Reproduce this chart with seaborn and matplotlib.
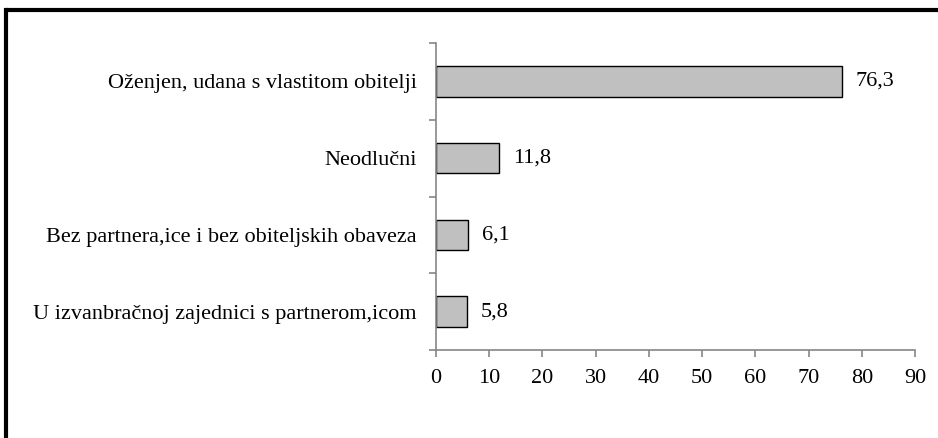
import matplotlib
matplotlib.use("Agg")
import matplotlib.pyplot as plt
from matplotlib.lines import Line2D
import numpy as np
import pandas as pd
import seaborn as sns

categories = [
    "Oženjen, udana s vlastitom obitelji",
    "Neodlučni",
    "Bez partnera,ice i bez obiteljskih obaveza",
    "U izvanbračnoj zajednici s partnerom,icom",
]
values = [76.3, 11.8, 6.1, 5.8]
value_labels = ["76,3", "11,8", "6,1", "5,8"]
x_ticks = [0, 10, 20, 30, 40, 50, 60, 70, 80, 90]

df = pd.DataFrame({"kategorija": categories, "postotak": values})

sns.set_style("white")
plt.rcParams["font.family"] = ["Liberation Serif", "DejaVu Serif"]
plt.rcParams["font.size"] = 16
plt.rcParams["text.color"] = "black"
plt.rcParams["xtick.color"] = "black"
plt.rcParams["ytick.color"] = "black"

fig = plt.figure(figsize=(9.38, 4.38), dpi=100)
ax = fig.add_axes([0.4648, 0.2009, 0.9755 - 0.4648, 0.9018 - 0.2009])

sns.barplot(data=df, x="postotak", y="kategorija", orient="h", ax=ax,
            color="#c0c0c0", edgecolor="black", linewidth=1.0, width=0.4,
            saturation=1)

ax.set_xlim(0, 90)
ax.set_ylim(3.5, -0.5)
ax.set_xticks(x_ticks)
ax.set_xticklabels([str(t) for t in x_ticks])
ax.set_xlabel("")
ax.set_ylabel("")

# category boundary tick marks on y axis
ax.set_yticks(np.arange(-0.5, len(categories), 1.0), minor=True)
ax.tick_params(axis="y", which="major", left=True, length=0, pad=14,
               labelsize=16, labelcolor="black")
ax.tick_params(axis="y", which="minor", left=True, length=5,
               color="#868686", width=1.2)
ax.tick_params(axis="x", which="major", bottom=True, length=5,
               color="#868686", width=1.2, direction="out", pad=9,
               labelsize=16, labelcolor="black")

for side in ["top", "right"]:
    ax.spines[side].set_visible(False)
for side in ["left", "bottom"]:
    ax.spines[side].set_color("#868686")
    ax.spines[side].set_linewidth(1.2)

for i, (v, lab) in enumerate(zip(values, value_labels)):
    ax.annotate(lab, (v, i), xytext=(10, 0), textcoords="offset points",
                va="center", ha="left", fontsize=16, color="black")

# frame on top and left edge of the picture
top_y = 1 - 10 / 438
left_x = 5.5 / 938
fig.add_artist(Line2D([left_x, 1], [top_y, top_y], transform=fig.transFigure,
                      color="black", linewidth=3, solid_capstyle="butt"))
fig.add_artist(Line2D([left_x, left_x], [0, top_y], transform=fig.transFigure,
                      color="black", linewidth=3, solid_capstyle="projecting"))

fig.savefig("out.png", dpi=100)
